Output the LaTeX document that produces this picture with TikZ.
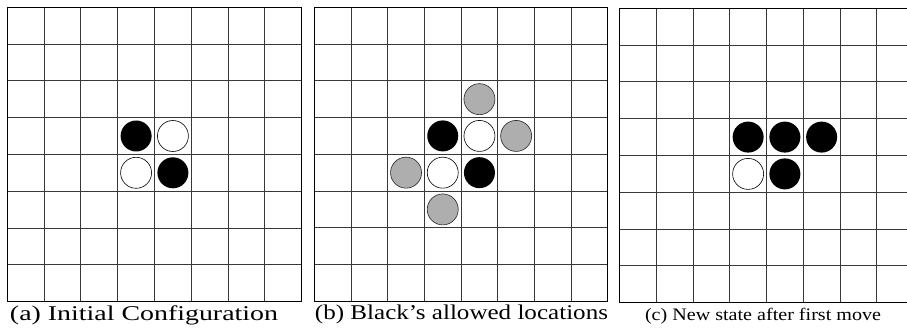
\documentclass[tikz,border=0pt]{standalone}
\usepackage{fontspec}
\setmainfont{Liberation Serif}
\usepackage{graphicx}
\definecolor{discgray}{RGB}{174,174,174}
\tikzset{
  gridline/.style={line width=0.9pt, draw=black!78},
  boardborder/.style={line width=1.0pt, draw=black},
  blackdisc/.style={fill=black},
  whitedisc/.style={fill=white, draw=black, line width=0.6pt},
  graydisc/.style={fill=discgray, draw=black!85, line width=0.6pt},
  capt/.style={inner sep=0pt, anchor=base}
}
\newcommand\myboard{%
  \foreach \k in {1,...,7} {
    \draw[gridline] (\k,0) -- (\k,8);
    \draw[gridline] (0,\k) -- (8,\k);
  }
  \draw[boardborder] (0,0) rectangle (8,8);}
\newcommand\mydisc[3]{\path[#1] (#2+0.5,#3+0.5) circle[radius=15.5pt];}
\begin{document}
\begin{tikzpicture}[x=1pt,y=-1pt]
\useasboundingbox (0,0) rectangle (907,328);
\clip (0,0) rectangle (907,328);
\fill[white] (0,0) rectangle (907,328);
% board (a)
\begin{scope}[shift={(7.3,7.2)}, x=36.8pt, y=-36.8pt]
  \myboard
  \mydisc{blackdisc}{3}{3}
  \mydisc{whitedisc}{4}{3}
  \mydisc{whitedisc}{3}{4}
  \mydisc{blackdisc}{4}{4}
\end{scope}
% board (b)
\begin{scope}[shift={(314.3,7.3)}, x=36.7pt, y=-36.75pt]
  \myboard
  \mydisc{graydisc}{4}{2}
  \mydisc{blackdisc}{3}{3}
  \mydisc{whitedisc}{4}{3}
  \mydisc{graydisc}{5}{3}
  \mydisc{graydisc}{2}{4}
  \mydisc{whitedisc}{3}{4}
  \mydisc{blackdisc}{4}{4}
  \mydisc{graydisc}{3}{5}
\end{scope}
% board (c)
\begin{scope}[shift={(619.5,8.3)}, x=36.75pt, y=-36.8pt]
  \myboard
  \mydisc{blackdisc}{3}{3}
  \mydisc{blackdisc}{4}{3}
  \mydisc{blackdisc}{5}{3}
  \mydisc{whitedisc}{3}{4}
  \mydisc{blackdisc}{4}{4}
\end{scope}
% captions
\node[capt] (capa) at (144,320) {\resizebox{268pt}{\height}{\fontsize{21}{24}\selectfont (a) Initial Configuration}};
\node[capt] (capb) at (461.5,320) {\resizebox{293pt}{\height}{\fontsize{21}{24}\selectfont (b) Black's allowed locations}};
\node[capt] (capc) at (763,321) {\resizebox{236pt}{\height}{\fontsize{17.5}{20}\selectfont (c) New state after first move}};
\end{tikzpicture}
\end{document}
